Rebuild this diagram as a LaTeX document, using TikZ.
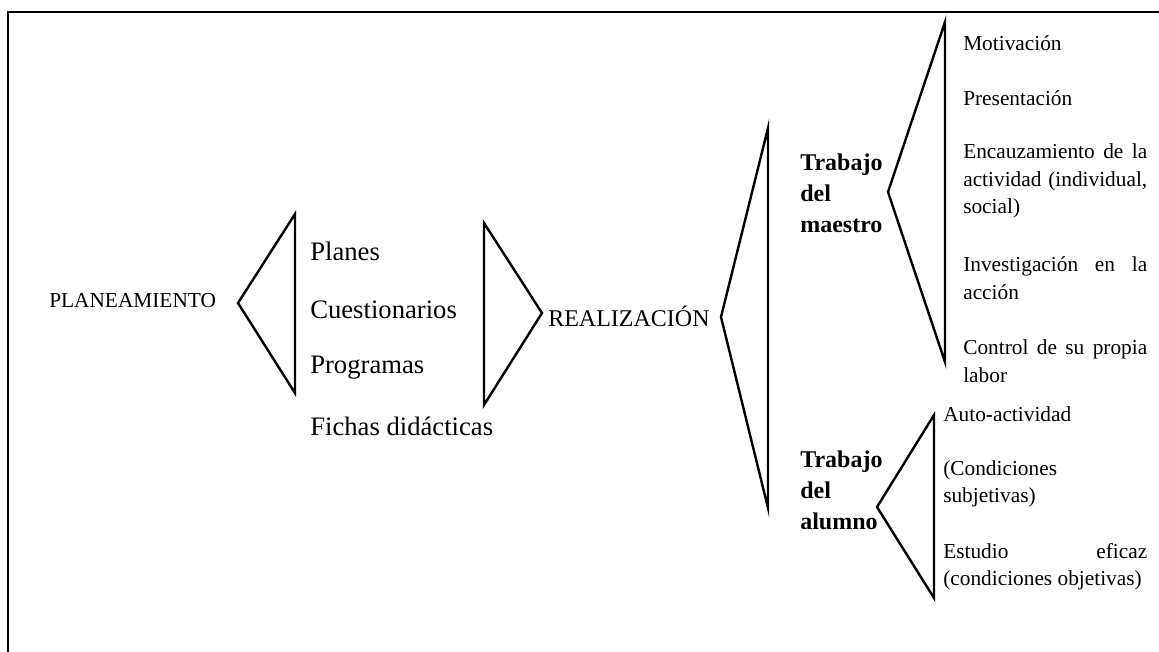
\documentclass[tikz,border=0pt]{standalone}
\usepackage{fontspec}
\setmainfont{Liberation Serif}
\begin{document}
\begin{tikzpicture}[x=0.75pt,y=-0.75pt,
  tri/.style={line width=1.8pt, line join=miter},
  lbl/.style={inner sep=0pt, anchor=west, align=left},
  sm/.style={font=\fontsize{16}{20.6}\selectfont},
  md/.style={font=\fontsize{18}{22}\selectfont},
  lg/.style={font=\fontsize{20}{24}\selectfont},
  bd/.style={font=\fontsize{18}{23.25}\selectfont\bfseries}]
\useasboundingbox (0,0) rectangle (1159,652);
\draw[line width=2pt] (8,652) -- (8,12) -- (1159,12);

% level 1
\node[lbl, sm] (plan) at (49,301) {PLANEAMIENTO};
\coordinate (t1a) at (238,303);
\draw[tri] (t1a) -- (295,214) -- (295,393) -- cycle;
\node[lbl, lg] (planes) at (310,251) {Planes};
\node[lbl, lg] (cuest) at (310,310) {Cuestionarios};
\node[lbl, lg] (prog) at (310,368) {Programas};
\node[lbl, lg] (fichas) at (310,426) {Fichas didácticas};

% level 2
\coordinate (t2a) at (542,313);
\draw[tri] (484,223) -- (t2a) -- (484,405) -- cycle;
\node[lbl, md] (real) at (548,316) {REALIZACIÓN};

% level 3
\coordinate (t3a) at (721,317);
\draw[tri] (768,128) -- (t3a) -- (768,508) -- cycle;
\node[lbl, bd] (tmaestro) at (800,193) {Trabajo\\del\\maestro};
\node[lbl, bd] (talumno) at (800,490) {Trabajo\\del\\alumno};

% maestro branch
\coordinate (t4a) at (888,192);
\draw[tri] (945,22) -- (t4a) -- (945,362) -- cycle;
\node[lbl, sm] (motiv) at (963,43) {Motivación};
\node[lbl, sm] (present) at (963,98) {Presentación};
\node[lbl, sm] (encauz) at (963,181) {\makebox[138pt][s]{Encauzamiento de la}\\\makebox[138pt][s]{actividad (individual,}\\social)};
\node[lbl, sm] (invest) at (963,278) {\makebox[138pt][s]{Investigación en la}\\acción};
\node[lbl, sm] (control) at (963,361) {\makebox[138pt][s]{Control de su propia}\\labor};

% alumno branch
\coordinate (t5a) at (877,507);
\draw[tri] (934,415) -- (t5a) -- (934,598) -- cycle;
\node[lbl, sm] (auto) at (943,414) {Auto-actividad};
\node[lbl, sm] (condsub) at (943,484) {(Condiciones\\subjetivas)};
\node[lbl, sm] (estudio) at (943,567) {\makebox[153pt][s]{Estudio eficaz}\\(condiciones objetivas)};
\end{tikzpicture}
\end{document}
